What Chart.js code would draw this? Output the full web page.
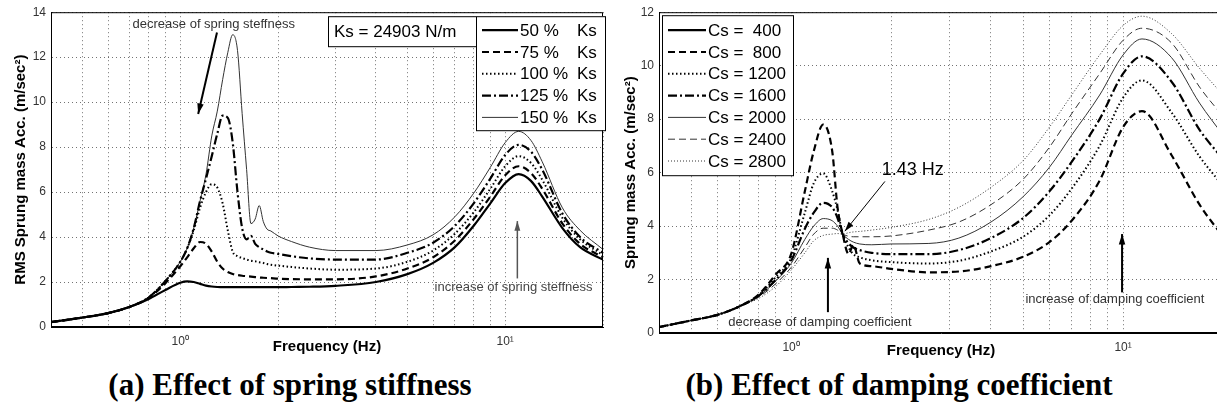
<!DOCTYPE html>
<html>
<head>
<meta charset="utf-8">
<script src="https://cdn.jsdelivr.net/npm/chart.js@4"></script>
<style>
  html, body { margin: 0; padding: 0; background: #fff; overflow: hidden; width: 1217px; height: 415px; }
  .wrap { position: absolute; top: 0; height: 360px; }
  #wrapA { left: 0; width: 610px; }
  #wrapB { left: 610px; width: 620px; }
  .caption { position: absolute; top: 367px; line-height: 36px; font: bold 31px "Liberation Serif", "Times New Roman", serif; color: #000; white-space: nowrap; transform: translateX(-50%); }
</style>
</head>
<body>
<div class="wrap" id="wrapA"><canvas id="chartA" width="610" height="360"></canvas></div>
<div class="wrap" id="wrapB"><canvas id="chartB" width="620" height="360"></canvas></div>
<div class="caption" style="left:290px">(a) Effect of spring stiffness</div>
<div class="caption" style="left:899px">(b) Effect of damping coefficient</div>
<script>
// ---- data ----
const gridFreq = [0.5, 0.6, 0.7, 0.8, 0.9, 1, 2, 3, 4, 5, 6, 7, 8, 9, 10, 20];
const decadeLabels = { 1: '10⁰', 10: '10¹' };

// (a) spring stiffness
const freqA = [0.4, 0.5, 0.6, 0.7, 0.8, 0.9, 1.0, 1.05, 1.1, 1.15, 1.2, 1.25, 1.3, 1.35, 1.4, 1.45, 1.5, 1.55, 1.6, 1.65, 1.7, 1.75, 1.8, 1.85, 1.9, 2.0, 2.2, 2.5, 3, 4, 5, 6, 7, 8, 9, 10, 11, 12, 13, 15, 17, 20];
const ks50  = [0.22, 0.42, 0.62, 0.9, 1.25, 1.65, 1.97, 2.03, 2.0, 1.92, 1.84, 1.8, 1.78, 1.77, 1.77, 1.77, 1.77, 1.77, 1.77, 1.77, 1.77, 1.77, 1.77, 1.77, 1.77, 1.77, 1.78, 1.79, 1.83, 2.0, 2.35, 2.85, 3.55, 4.5, 5.5, 6.4, 6.8, 6.5, 5.8, 4.4, 3.55, 3.0];
const ks75  = [0.22, 0.42, 0.62, 0.9, 1.3, 1.95, 2.7, 3.1, 3.5, 3.78, 3.7, 3.35, 2.9, 2.6, 2.45, 2.36, 2.31, 2.28, 2.26, 2.24, 2.22, 2.2, 2.19, 2.18, 2.17, 2.15, 2.13, 2.12, 2.12, 2.25, 2.6, 3.1, 3.85, 4.8, 5.8, 6.75, 7.15, 6.85, 6.15, 4.6, 3.7, 3.1];
const ks100 = [0.22, 0.42, 0.62, 0.9, 1.32, 2.05, 2.9, 3.5, 4.3, 5.3, 6.0, 6.35, 6.2, 5.5, 4.3, 3.35, 3.15, 3.07, 3.0, 2.95, 2.92, 2.88, 2.85, 2.8, 2.77, 2.73, 2.67, 2.6, 2.55, 2.6, 2.9, 3.4, 4.15, 5.1, 6.15, 7.15, 7.6, 7.3, 6.55, 4.85, 3.9, 3.2];
const ks125 = [0.22, 0.42, 0.62, 0.9, 1.32, 2.05, 2.9, 3.5, 4.4, 5.6, 6.6, 7.6, 8.6, 9.4, 9.3, 8.2, 6.0, 4.4, 3.9, 4.05, 3.7, 3.55, 3.45, 3.36, 3.3, 3.25, 3.15, 3.05, 3.0, 3.0, 3.3, 3.75, 4.5, 5.5, 6.6, 7.65, 8.1, 7.8, 7.0, 5.05, 4.0, 3.3];
const ks150 = [0.22, 0.42, 0.62, 0.9, 1.32, 2.05, 2.9, 3.5, 4.4, 5.6, 6.8, 8.5, 9.6, 11.0, 12.2, 13.0, 12.3, 9.5, 7.0, 4.6, 4.8, 5.4, 4.7, 4.35, 4.27, 4.05, 3.8, 3.55, 3.4, 3.4, 3.65, 4.1, 4.9, 5.95, 7.1, 8.2, 8.7, 8.3, 7.35, 5.3, 4.3, 3.45];
const labelsA = ['50 %   Ks', '75 %   Ks', '100 % Ks', '125 % Ks', '150 % Ks'];

// (b) damping coefficient
const freqB = [0.4, 0.5, 0.6, 0.7, 0.8, 0.9, 1.0, 1.1, 1.17, 1.25, 1.33, 1.38, 1.43, 1.49, 1.54, 1.61, 1.75, 2.0, 2.6, 3.2, 4, 5, 6, 7, 8.5, 10, 11.4, 14, 17, 20];
const cs400  = [];
const cs800  = [0.22, 0.47, 0.68, 1.0, 1.45, 2.2, 2.95, 5.3, 6.8, 7.8, 6.8, 4.7, 3.7, 2.95, 3.3, 2.6, 2.5, 2.4, 2.27, 2.3, 2.5, 2.85, 3.4, 4.2, 5.7, 7.7, 8.3, 6.65, 4.8, 3.6];
const cs1200 = [0.22, 0.47, 0.68, 1.0, 1.42, 2.1, 2.8, 4.5, 5.6, 5.97, 5.3, 4.6, 3.7, 3.2, 2.95, 2.83, 2.72, 2.65, 2.6, 2.7, 3.05, 3.6, 4.4, 5.4, 7.0, 8.8, 9.45, 8.25, 6.6, 5.5];
const cs1600 = [0.22, 0.47, 0.68, 1.0, 1.4, 2.0, 2.7, 3.9, 4.5, 4.87, 4.7, 4.3, 3.7, 3.35, 3.2, 3.1, 3.0, 2.95, 2.95, 3.1, 3.55, 4.3, 5.3, 6.4, 8.0, 9.7, 10.35, 9.4, 7.6, 6.5];
const cs2000 = [0.22, 0.47, 0.68, 1.0, 1.38, 1.95, 2.6, 3.5, 4.0, 4.28, 4.2, 4.0, 3.7, 3.5, 3.4, 3.33, 3.3, 3.33, 3.35, 3.55, 4.15, 5.1, 6.2, 7.4, 8.9, 10.4, 11.0, 10.3, 8.6, 7.4];
const cs2400 = [0.22, 0.47, 0.68, 1.0, 1.35, 1.85, 2.45, 3.2, 3.7, 3.92, 3.92, 3.85, 3.7, 3.62, 3.6, 3.6, 3.6, 3.63, 3.85, 4.15, 4.8, 5.75, 6.95, 8.2, 9.7, 10.95, 11.4, 10.85, 9.2, 8.1];
const cs2800 = [0.22, 0.47, 0.68, 1.0, 1.3, 1.75, 2.35, 3.0, 3.45, 3.65, 3.7, 3.72, 3.7, 3.75, 3.78, 3.8, 3.85, 3.95, 4.25, 4.7, 5.45, 6.45, 7.7, 8.9, 10.4, 11.5, 11.85, 11.2, 9.9, 8.9];
const labelsB = ['Cs =  400', 'Cs =  800', 'Cs = 1200', 'Cs = 1600', 'Cs = 2000', 'Cs = 2400', 'Cs = 2800'];

// ---- line styles ----
const thickSolid = { borderWidth: 2.2 };
const thickDash  = { borderWidth: 2.2, borderDash: [7, 4] };
const dotted     = { borderWidth: 2, borderDash: [1.5, 2.5] };
const dashDot    = { borderWidth: 2.2, borderDash: [9, 3, 2, 3] };
const thinSolid  = { borderWidth: 1, borderColor: '#333' };
const thinDash   = { borderWidth: 1, borderColor: '#333', borderDash: [7, 4] };
const thinDot    = { borderWidth: 1, borderColor: '#333', borderDash: [1, 2] };

Chart.defaults.font.family = '"Liberation Sans", Arial, sans-serif';
Chart.defaults.color = '#000';

function series(freq, vals, label, style) {
  return Object.assign({
    label: label,
    data: vals.map((v, i) => ({ x: freq[i], y: v })),
    borderColor: '#000',
    pointRadius: 0,
    fill: false,
    cubicInterpolationMode: 'monotone'
  }, style);
}

// frame, legend box, info box, arrows and notes
const extras = {
  id: 'extras',
  afterDraw(chart, args, opts) {
    const { ctx, chartArea: a, scales: { x, y } } = chart;
    ctx.save();
    ctx.setLineDash([]);
    ctx.strokeStyle = '#000';
    ctx.lineWidth = 1;
    ctx.strokeRect(a.left + 0.5, a.top + 0.5, a.right - a.left - 1, a.bottom - a.top - 1);

    (opts.arrows || []).forEach(r => {
      const x1 = x.getPixelForValue(r.from[0]), y1 = y.getPixelForValue(r.from[1]);
      const x2 = x.getPixelForValue(r.to[0]), y2 = y.getPixelForValue(r.to[1]);
      ctx.strokeStyle = r.color; ctx.fillStyle = r.color; ctx.lineWidth = r.width;
      ctx.beginPath(); ctx.moveTo(x1, y1); ctx.lineTo(x2, y2); ctx.stroke();
      const ang = Math.atan2(y2 - y1, x2 - x1), h = r.head;
      ctx.beginPath();
      ctx.moveTo(x2, y2);
      ctx.lineTo(x2 - h * Math.cos(ang - 0.3), y2 - h * Math.sin(ang - 0.3));
      ctx.lineTo(x2 - h * Math.cos(ang + 0.3), y2 - h * Math.sin(ang + 0.3));
      ctx.closePath(); ctx.fill();
    });

    ctx.textBaseline = 'middle';
    ctx.textAlign = 'left';
    (opts.notes || []).forEach(n => {
      ctx.font = n.font;
      ctx.fillStyle = n.color;
      ctx.fillText(n.text, x.getPixelForValue(n.at[0]), y.getPixelForValue(n.at[1]));
    });

    if (opts.info) {
      const b = opts.info;
      const bx = a.left + b.left, by = a.top + b.top;
      ctx.fillStyle = '#fff'; ctx.fillRect(bx, by, b.width, b.height);
      ctx.strokeStyle = '#000'; ctx.lineWidth = 1;
      ctx.strokeRect(bx + 0.5, by + 0.5, b.width, b.height);
      ctx.font = b.font; ctx.fillStyle = '#000';
      ctx.fillText(b.text, bx + 6, by + b.height / 2 + 1);
    }

    if (opts.legend) {
      const L = opts.legend;
      const bx = a.left + L.left, by = a.top + L.top;
      ctx.fillStyle = '#fff'; ctx.fillRect(bx, by, L.width, L.height);
      ctx.strokeStyle = '#000'; ctx.lineWidth = 1;
      ctx.strokeRect(bx + 0.5, by + 0.5, L.width, L.height);
      ctx.font = L.font;
      chart.data.datasets.forEach((ds, i) => {
        const cy = by + L.first + i * L.step;
        ctx.strokeStyle = ds.borderColor; ctx.lineWidth = ds.borderWidth;
        ctx.setLineDash(ds.borderDash || []);
        ctx.beginPath(); ctx.moveTo(bx + 6, cy); ctx.lineTo(bx + L.sample, cy); ctx.stroke();
        ctx.setLineDash([]);
        ctx.fillStyle = '#000';
        if (L.col2) {
          const k = ds.label.lastIndexOf(' ');
          ctx.fillText(ds.label.slice(0, k).trim(), bx + L.sample + 2, cy + 1);
          ctx.fillText(ds.label.slice(k + 1), bx + L.col2, cy + 1);
        } else {
          ctx.fillText(ds.label, bx + L.sample + 2, cy + 1);
        }
      });
    }
    ctx.restore();
  }
};

function xScale(height, titlePad) {
  return {
    type: 'logarithmic', min: 0.4, max: 20,
    afterBuildTicks: s => { s.ticks = gridFreq.map(v => ({ value: v })); },
    afterFit: s => { s.height = height; },
    ticks: { autoSkip: false, maxRotation: 0, padding: 7, font: { size: 12 }, color: '#333',
             callback: v => decadeLabels[v] || '' },
    grid: { color: 'rgba(0,0,0,0.55)', drawTicks: false },
    border: { dash: [1, 3], color: '#000' },
    title: { display: true, text: 'Frequency (Hz)', color: '#000',
             font: { size: 15, weight: 'bold' }, padding: { top: 0, bottom: titlePad } }
  };
}

function yScale(max, width, text) {
  return {
    min: 0, max: max,
    afterFit: s => { s.width = width; },
    ticks: { stepSize: 2, padding: 5, font: { size: 12 }, color: '#333' },
    grid: { color: 'rgba(0,0,0,0.55)', drawTicks: false },
    border: { dash: [1, 3], color: '#000' },
    title: { display: true, text: text, color: '#000',
             font: { size: 15, weight: 'bold' }, padding: { top: 12, bottom: 0 } }
  };
}

new Chart(document.getElementById('chartA'), {
  type: 'line',
  data: {
    datasets: [
      series(freqA, ks50, labelsA[0], thickSolid),
      series(freqA, ks75, labelsA[1], thickDash),
      series(freqA, ks100, labelsA[2], dotted),
      series(freqA, ks125, labelsA[3], dashDot),
      series(freqA, ks150, labelsA[4], thinSolid)
    ]
  },
  options: {
    responsive: false, animation: false,
    layout: { padding: { left: 0, top: 9, right: 4, bottom: 0 } },
    scales: { x: xScale(33, 4), y: yScale(14, 51, 'RMS Sprung mass Acc. (m/sec²)') },
    plugins: {
      legend: { display: false }, tooltip: { enabled: false },
      extras: {
        info: { left: 277, top: 4, width: 148, height: 30, text: 'Ks = 24903 N/m', font: '17px "Liberation Sans", Arial' },
        legend: { left: 425, top: 4, width: 129, height: 114, first: 14, step: 21.8, sample: 42, col2: 101,
                  font: '17px "Liberation Sans", Arial' },
        notes: [
          { text: 'decrease of spring steffness', at: [0.713, 13.45], font: '13px "Liberation Sans", Arial', color: '#333' },
          { text: 'increase of spring steffness', at: [6.06, 1.76], font: '13px "Liberation Sans", Arial', color: '#444' }
        ],
        arrows: [
          { from: [1.297, 13.1], to: [1.135, 9.47], width: 2, color: '#000', head: 11 },
          { from: [10.9, 2.16], to: [10.9, 4.71], width: 1.5, color: '#555', head: 10 }
        ]
      }
    }
  },
  plugins: [extras]
});

new Chart(document.getElementById('chartB'), {
  type: 'line',
  data: {
    datasets: [
      series(freqB, cs400, labelsB[0], thickSolid),
      series(freqB, cs800, labelsB[1], thickDash),
      series(freqB, cs1200, labelsB[2], dotted),
      series(freqB, cs1600, labelsB[3], dashDot),
      series(freqB, cs2000, labelsB[4], thinSolid),
      series(freqB, cs2400, labelsB[5], thinDash),
      series(freqB, cs2800, labelsB[6], thinDot)
    ]
  },
  options: {
    responsive: false, animation: false,
    layout: { padding: { left: 0, top: 9, right: 6, bottom: 0 } },
    scales: { x: xScale(27, 0), y: yScale(12, 49, 'Sprung mass Acc. (m/sec²)') },
    plugins: {
      legend: { display: false }, tooltip: { enabled: false },
      extras: {
        legend: { left: 3, top: 3, width: 131, height: 160, first: 15, step: 21.8, sample: 44,
                  font: '17px "Liberation Sans", Arial' },
        notes: [
          { text: '1.43 Hz', at: [1.876, 6.1], font: '18px "Liberation Sans", Arial', color: '#000' },
          { text: 'decrease of damping coefficient', at: [0.647, 0.41], font: '13px "Liberation Sans", Arial', color: '#333' },
          { text: 'increase of damping coefficient', at: [5.08, 1.26], font: '13px "Liberation Sans", Arial', color: '#333' }
        ],
        arrows: [
          { from: [1.917, 5.67], to: [1.452, 3.81], width: 1, color: '#000', head: 10 },
          { from: [1.291, 0.78], to: [1.291, 2.81], width: 2, color: '#000', head: 11 },
          { from: [9.93, 1.52], to: [9.93, 3.7], width: 2, color: '#000', head: 11 }
        ]
      }
    }
  },
  plugins: [extras]
});
</script>
</body>
</html>
